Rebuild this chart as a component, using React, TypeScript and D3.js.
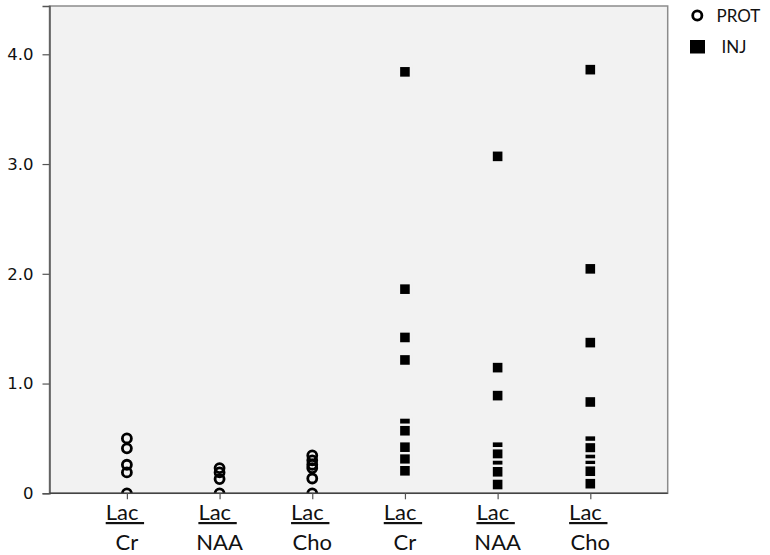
import React, { useRef, useEffect } from "react";
import * as d3 from "d3";

// category labels (numerator / denominator) and groups
const groups = ["PROT", "PROT", "PROT", "INJ", "INJ", "INJ"];
const numerators = ["Lac", "Lac", "Lac", "Lac", "Lac", "Lac"];
const denominators = ["Cr", "NAA", "Cho", "Cr", "NAA", "Cho"];

// ratio values per column
const protCr = [0.5, 0.41, 0.26, 0.19, 0];
const protNaa = [0.23, 0.19, 0.13, 0];
const protCho = [0.345, 0.3, 0.26, 0.23, 0.135, 0];
const injCr = [3.84, 1.86, 1.42, 1.215, 0.636, 0.57, 0.42, 0.311, 0.205];
const injNaa = [3.07, 1.145, 0.89, 0.42, 0.356, 0.253, 0.196, 0.08];
const injCho = [3.86, 2.045, 1.373, 0.832, 0.475, 0.413, 0.308, 0.253, 0.201, 0.0875];

const yTicks = [0, 1, 2, 3, 4];
const legendItems = ["PROT", "INJ"];

const App = () => {
  const ref = useRef(null);

  useEffect(() => {
    const width = 770;
    const height = 555;
    const left = 49.5;
    const right = 667.7;
    const top = 6;
    const bottom = 493.3;

    const columns = [protCr, protNaa, protCho, injCr, injNaa, injCho];
    const keys = denominators.map((d, i) => `${groups[i]}-${d}`);

    const x = d3.scalePoint().domain(keys).range([left, right]).padding(0.835);
    const y = d3.scaleLinear().domain([0, 4.44]).range([bottom, top]);

    d3.select(ref.current).selectAll("*").remove();

    const svg = d3
      .select(ref.current)
      .append("svg")
      .attr("width", width)
      .attr("height", height)
      .style("position", "absolute")
      .style("left", "0px")
      .style("top", "0px")
      .style("background", "#fff");

    svg
      .append("defs")
      .append("clipPath")
      .attr("id", "plotclip")
      .append("rect")
      .attr("x", left)
      .attr("y", top)
      .attr("width", right - left)
      .attr("height", bottom - top);

    // plot background + frame
    svg
      .append("rect")
      .attr("x", left)
      .attr("y", top)
      .attr("width", right - left)
      .attr("height", bottom - top)
      .attr("fill", "#f2f2f2")
      .attr("stroke", "#8c8c8c")
      .attr("stroke-width", 1.5);

    // points
    const pts = svg.append("g").attr("clip-path", "url(#plotclip)");
    columns.forEach((vals, i) => {
      const cx = x(keys[i]);
      if (groups[i] === "PROT") {
        pts
          .append("g")
          .selectAll("circle")
          .data(vals)
          .join("circle")
          .attr("cx", cx)
          .attr("cy", (d) => y(d))
          .attr("r", 4.5)
          .attr("fill", "none")
          .attr("stroke", "#000")
          .attr("stroke-width", 2.8);
      } else {
        const g = pts.append("g").selectAll("g").data(vals).join("g");
        g.append("rect")
          .attr("x", cx - 7.2)
          .attr("y", (d) => y(d) - 7.2)
          .attr("width", 14.4)
          .attr("height", 14.4)
          .attr("fill", "#f2f2f2");
        g.append("rect")
          .attr("x", cx - 4.8)
          .attr("y", (d) => y(d) - 4.8)
          .attr("width", 9.6)
          .attr("height", 9.6)
          .attr("fill", "#000");
      }
    });

    // y axis
    const yAxis = svg
      .append("g")
      .attr("transform", `translate(${left},0)`)
      .call(
        d3
          .axisLeft(y)
          .tickValues(yTicks)
          .tickSize(7)
          .tickPadding(9)
          .tickFormat((d) => (d === 0 ? "0" : d3.format(".1f")(d)))
      );
    yAxis.select(".domain").attr("stroke", "#555").attr("stroke-width", 1.5);
    yAxis.selectAll(".tick line").attr("stroke", "#555").attr("stroke-width", 1.2);
    yAxis
      .selectAll(".tick text")
      .attr("fill", "#111")
      .style("font-family", "'DejaVu Sans', sans-serif")
      .style("font-size", "16.5px");

    // x axis
    const xAxis = svg
      .append("g")
      .attr("transform", `translate(0,${bottom})`)
      .call(d3.axisBottom(x).tickSize(6).tickFormat(() => ""));
    xAxis.select(".domain").attr("stroke", "#444").attr("stroke-width", 1.5).attr("d", `M${left},0H${right}`);
    xAxis.selectAll(".tick line").attr("stroke", "#555").attr("stroke-width", 1.2);

    const labels = svg
      .append("g")
      .style("font-family", "Lato, 'Open Sans', sans-serif")
      .style("font-size", "22px")
      .attr("fill", "#111")
      .attr("text-anchor", "middle");
    keys.forEach((k, i) => {
      labels
        .append("text")
        .attr("x", x(k) - 2)
        .attr("y", 520)
        .attr("text-decoration", "underline")
        .style("white-space", "pre")
        .text(numerators[i] + "\u00a0");
      labels
        .append("text")
        .attr("x", x(k))
        .attr("y", 550)
        .text(denominators[i]);
    });

    // legend
    const legend = svg
      .append("g")
      .style("font-family", "Lato, 'Open Sans', sans-serif")
      .style("font-size", "17px")
      .attr("fill", "#111");
    legendItems.forEach((name, i) => {
      const ly = 15.5 + i * 31.5;
      if (name === "PROT") {
        legend
          .append("circle")
          .attr("cx", 697.3)
          .attr("cy", ly)
          .attr("r", 4.6)
          .attr("fill", "none")
          .attr("stroke", "#000")
          .attr("stroke-width", 2.8);
      } else {
        legend
          .append("rect")
          .attr("x", 690)
          .attr("y", ly - 7)
          .attr("width", 15)
          .attr("height", 13.5)
          .attr("fill", "#000");
      }
      legend
        .append("text")
        .attr("x", name === "PROT" ? 716.5 : 721.5)
        .attr("y", ly + 6)
        .text(name);
    });
  }, []);

  return <div ref={ref}></div>;
};

export default App;
